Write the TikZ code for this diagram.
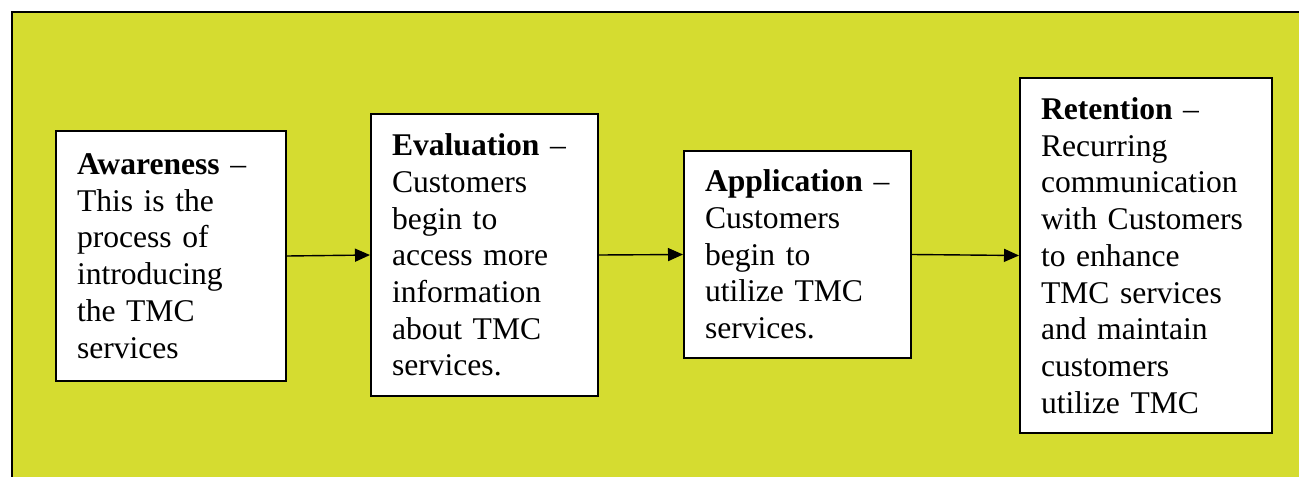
\documentclass[tikz,border=0pt]{standalone}
\usepackage{fontspec}
\setmainfont{Liberation Serif}
\usetikzlibrary{arrows.meta}
\definecolor{mylime}{RGB}{213,220,48}
\tikzset{
  stage/.style={rectangle, draw=black, fill=white, line width=1pt,
    anchor=north west, align=left, inner xsep=10.5pt, inner ysep=0pt,
    font=\fontsize{15.8pt}{18.35pt}\selectfont},
  arrow/.style={-{Triangle[length=7.5pt,width=6.5pt]}, line width=0.7pt}
}
\begin{document}
\begin{tikzpicture}[x=0.5pt,y=-0.5pt]
  \useasboundingbox (0,0) rectangle (1299,476);
  \clip (0,0) rectangle (1299,476);
  % background panel
  \draw[line width=1.2pt, fill=mylime] (12,12) rectangle (1310,490);

  % stages
  \node[stage, text width=94pt, minimum height=125pt] (aware) at (55,130)
    {\textbf{Awareness} --\\ This is the\\ process of\\ introducing\\ the TMC\\ services};
  \node[stage, text width=92.5pt, minimum height=141pt] (eval) at (370,113)
    {\textbf{Evaluation} --\\ Customers\\ begin to\\ access more\\ information\\ about TMC\\ services.};
  \node[stage, text width=92.5pt, minimum height=103.5pt] (appl) at (683,150)
    {\textbf{Application} --\\ Customers\\ begin to\\ utilize TMC\\ services.};
  \node[stage, text width=105pt, minimum height=177.5pt] (retain) at (1019,77)
    {\textbf{Retention} --\\ Recurring\\ communication\\ with Customers\\ to enhance\\ TMC services\\ and maintain\\ customers\\ utilize TMC};

  % flow
  \draw[arrow] (aware.east) -- (eval.west);
  \draw[arrow] (eval.east) -- (appl.west);
  \draw[arrow] (appl.east) -- (retain.west);
\end{tikzpicture}
\end{document}
